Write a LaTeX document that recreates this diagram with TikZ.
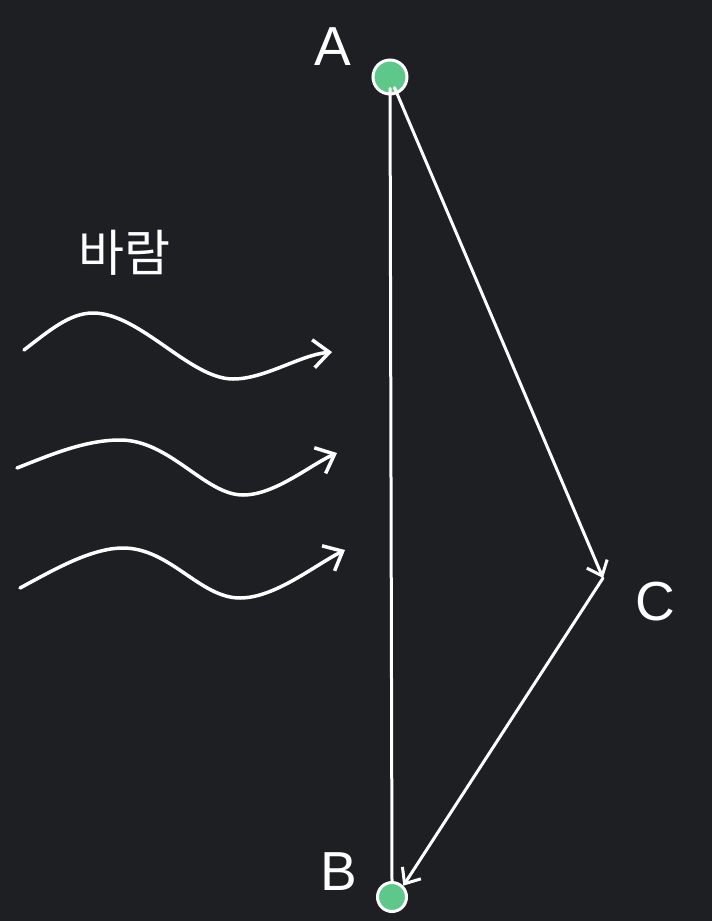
\documentclass[tikz,border=0pt]{standalone}
\usepackage{fontspec}
\setmainfont{Liberation Sans}
\newfontfamily\korfont{Noto Sans CJK KR}
\usetikzlibrary{arrows.meta}

\definecolor{bgdark}{RGB}{30,31,35}
\definecolor{dotgreen}{RGB}{94,200,138}

\tikzset{
  dot/.style={circle, draw=white, line width=3pt, fill=dotgreen, inner sep=0pt},
  edgeline/.style={white, line width=3pt, line cap=round},
  barb/.style={-{Straight Barb[length=13pt,width=22pt]}},
  wind/.style={white, line width=3.5pt, line cap=round, -{Straight Barb[length=16pt,width=28pt]}},
  letter/.style={white, anchor=base, font=\fontsize{55}{55}\selectfont}
}

\begin{document}
\begin{tikzpicture}[x=1pt, y=-1pt]

  \fill[bgdark] (0,0) rectangle (712,921);
  \useasboundingbox (0,0) rectangle (712,921);

  \node[dot, minimum size=34pt] (a) at (390,77) {};
  \node[dot, minimum size=29pt] (b) at (392,897) {};
  \coordinate (c) at (603,578);

  \node[letter] (la) at (333,65) {A};
  \node[letter] (lb) at (339,890) {B};
  \node[letter] (lc) at (655,620) {C};
  \node[white, anchor=base, font=\korfont\fontsize{50}{50}\selectfont] (wind label) at (124,271) {바람};

  \draw[edgeline, shorten <=-7pt] (a) -- (b.north);
  \draw[edgeline, barb, shorten <=-7pt] (a) -- (c);
  \draw[edgeline, barb] (c) -- (b.north east);

  \draw[wind] (24,350) .. controls (50,330) and (70,313) .. (93,313)
    .. controls (140,313) and (190,379) .. (233,379)
    .. controls (265,379) and (300,355) .. (332,352);
  \draw[wind] (17,468) .. controls (50,455) and (85,440) .. (120,440)
    .. controls (170,440) and (205,495) .. (243,495)
    .. controls (275,495) and (310,465) .. (337,453);
  \draw[wind] (20,588) .. controls (50,572) and (90,548) .. (123,548)
    .. controls (170,548) and (200,598) .. (240,598)
    .. controls (275,598) and (315,565) .. (345,550);

\end{tikzpicture}
\end{document}
